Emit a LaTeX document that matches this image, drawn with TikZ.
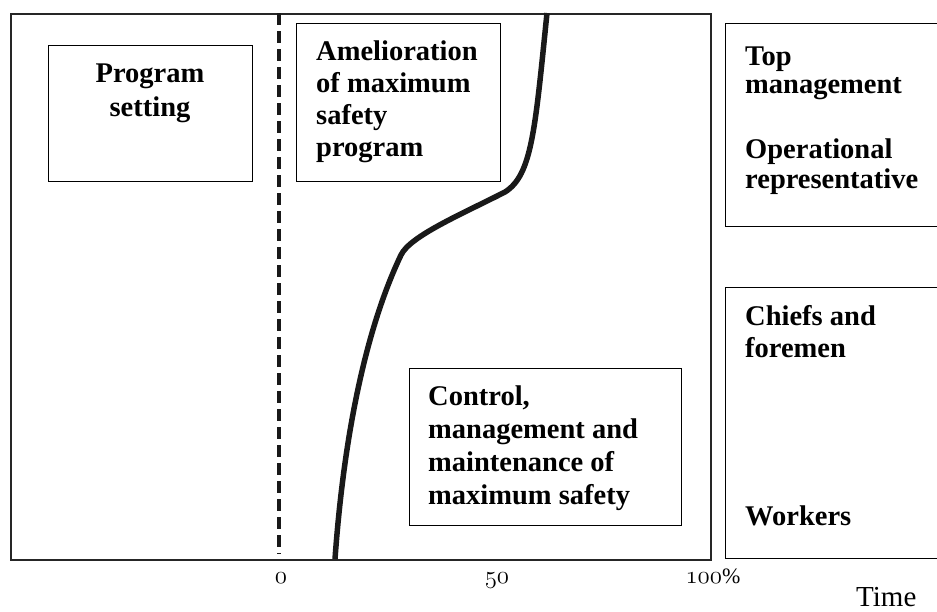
\documentclass[tikz,border=0pt]{standalone}
\usepackage{fontspec}
\setmainfont{Liberation Serif}
\newcommand\osnum[1]{{\usefont{OML}{cmm}{m}{it}#1}}
\newcommand\blk[2][l]{\begin{tabular}[t]{@{}#1@{}}#2\end{tabular}}
\begin{document}
\begin{tikzpicture}[x=1pt,y=-1pt,
  frame/.style={draw=black!85,line width=2pt,inner sep=0pt,anchor=north west},
  box/.style={draw=black,line width=1.4pt,inner sep=0pt,anchor=north west},
  lbl/.style={inner sep=0pt,anchor=base west},
  axl/.style={inner sep=0pt,anchor=base,font=\fontsize{27}{30}\selectfont},
  curve/.style={draw=black!90,line width=5.5pt,line join=round},
  divider/.style={draw=black!90,line width=4pt,dash pattern=on 12pt off 6pt}]
\useasboundingbox (0,0) rectangle (937,611);
% main frame
\node[frame,minimum width=700pt,minimum height=546pt] (main) at (10,13) {};
% boxes
\node[box,minimum width=204pt,minimum height=136pt] (progbox) at (48,45) {};
\node[box,minimum width=204pt,minimum height=158pt] (amelbox) at (296,23) {};
\node[box,minimum width=272pt,minimum height=157pt] (ctrlbox) at (409,368) {};
\node[box,minimum width=230pt,minimum height=203pt] (topbox) at (725,23) {};
\node[box,minimum width=230pt,minimum height=271pt] (lowbox) at (725,287) {};
% dashed line at 0
\coordinate (d1) at (279,13);
\coordinate (d2) at (279,554);
\draw[divider] (d1) -- (d2);
% curve
\coordinate (c0) at (547,13);
\coordinate (c1) at (505,192);
\coordinate (kink) at (401,255);
\coordinate (c3) at (335,559);
\draw[curve] (c0) .. controls (535,130) and (532,175) .. (c1)
  .. controls (462,214) and (410,236) .. (kink)
  .. controls (370,320) and (345,420) .. (c3);
% texts
\node[inner sep=0pt,anchor=base,font=\bfseries\fontsize{28.5}{34}\selectfont] (progtxt) at (150,82) {\blk[c]{Program\\setting}};
\node[lbl,font=\bfseries\fontsize{28.5}{32}\selectfont] (ameltxt) at (316,60) {\blk{Amelioration\\of maximum\\safety\\program}};
\node[lbl,font=\bfseries\fontsize{28.5}{33.3}\selectfont] (ctrltxt) at (428,405) {\blk{Control,\\management and\\maintenance of\\maximum safety}};
\node[lbl,font=\bfseries\fontsize{28.5}{28.5}\selectfont] (toptxt) at (745,65) {\blk{Top\\management}};
\node[lbl,font=\bfseries\fontsize{28.5}{30}\selectfont] (optxt) at (745,158) {\blk{Operational\\representative}};
\node[lbl,font=\bfseries\fontsize{28.5}{32}\selectfont] (chieftxt) at (745,325) {\blk{Chiefs and\\foremen}};
\node[lbl,font=\bfseries\fontsize{28.5}{32}\selectfont] (worktxt) at (745,525) {Workers};
% axis
\node[axl] (ax0) at (281,583) {\osnum{0}};
\node[axl] (ax50) at (497,583) {\osnum{50}};
\node[axl] (ax100) at (713,583) {\osnum{100}{\fontsize{22}{26}\selectfont\%}};
\node[lbl,font=\fontsize{29}{34}\selectfont] (time) at (856,606) {Time};
\end{tikzpicture}
\end{document}
